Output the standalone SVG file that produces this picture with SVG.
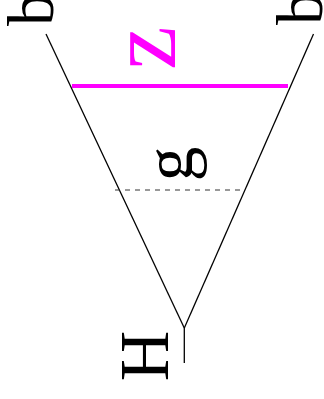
<svg xmlns="http://www.w3.org/2000/svg" width="324" height="399" viewBox="0 0 324 399">
<style>
.lbl{font-family:"Liberation Serif","Times New Roman",serif;fill:#000}
.edge{stroke:#000;stroke-width:1.3;fill:none}
</style>
<rect width="324" height="399" fill="#fff"/>
<g id="connectors">
<line class="edge" x1="46" y1="34" x2="184.3" y2="328"/>
<line class="edge" x1="313.5" y1="34" x2="184.3" y2="328"/>
<line class="edge" x1="184.3" y1="328" x2="184.3" y2="363"/>
<line x1="72" y1="86" x2="288" y2="86" stroke="#ff00ff" stroke-width="4"/>
<line x1="115" y1="190" x2="243" y2="190" stroke="#333" stroke-width="1" stroke-dasharray="5,5"/>
</g>
<g id="b-left"><text class="lbl" font-size="66" transform="translate(53,26) rotate(-90)">b</text></g>
<g id="b-right"><text class="lbl" font-size="66" transform="translate(322,25) rotate(-90)">b</text></g>
<g id="z"><text class="lbl" font-size="98" fill="#ff00ff" style="fill:#ff00ff" text-anchor="middle" transform="translate(175,48) rotate(-90)">z</text></g>
<g id="g"><text class="lbl" font-size="69" text-anchor="middle" transform="translate(192,164) rotate(-90)">g</text></g>
<g id="H"><text class="lbl" font-size="70" text-anchor="middle" transform="translate(168,356) rotate(-90)">H</text></g>
</svg>
